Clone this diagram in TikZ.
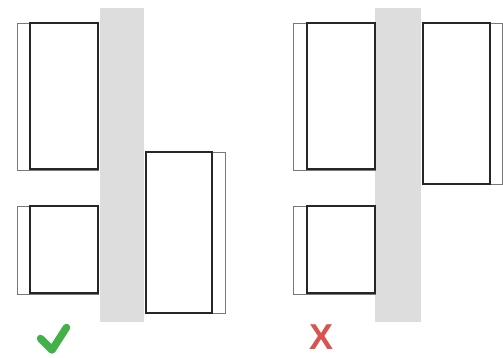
\documentclass[tikz,border=0pt]{standalone}
\usepackage{fontspec}
\setmainfont{Liberation Sans}
\definecolor{band}{RGB}{221,221,221}
\definecolor{okgreen}{RGB}{67,176,73}
\definecolor{badred}{RGB}{217,83,79}
\definecolor{thinline}{RGB}{120,120,120}
\tikzset{
  bandfill/.style={fill=band, draw=none},
  sash/.style={draw=black!85, line width=1.8pt},
  frame/.style={draw=thinline, line width=0.8pt},
}
\begin{document}
\begin{tikzpicture}[x=1pt,y=-1pt]
\useasboundingbox (0,0) rectangle (503,357);
% ---- left panel ----
\fill[bandfill] (100,8) rectangle (144,322);
\draw[frame] (17,23) rectangle (98,170);
\draw[sash]  (30,23) rectangle (98,169);
\draw[frame] (17,206) rectangle (98,294);
\draw[sash]  (30,206) rectangle (98,293);
\draw[frame] (146,152) rectangle (225,313);
\draw[sash]  (146,152) rectangle (212,313);
\draw[okgreen, line width=7.5pt, line cap=round, line join=round]
  (40.5,338.5) -- (52,350) -- (66.5,327.5);
% ---- right panel ----
\fill[bandfill] (375,8) rectangle (421,322);
\draw[frame] (293,23) rectangle (375,170);
\draw[sash]  (307,23) rectangle (375,169);
\draw[frame] (293,206) rectangle (375,294);
\draw[sash]  (307,206) rectangle (375,293);
\draw[frame] (423,23) rectangle (502,184);
\draw[sash]  (423,23) rectangle (490,184);
\node[text=badred, font=\bfseries\fontsize{36}{36}\selectfont, inner sep=1pt] (bad) at (321.5,337.5) {X};
\end{tikzpicture}
\end{document}
